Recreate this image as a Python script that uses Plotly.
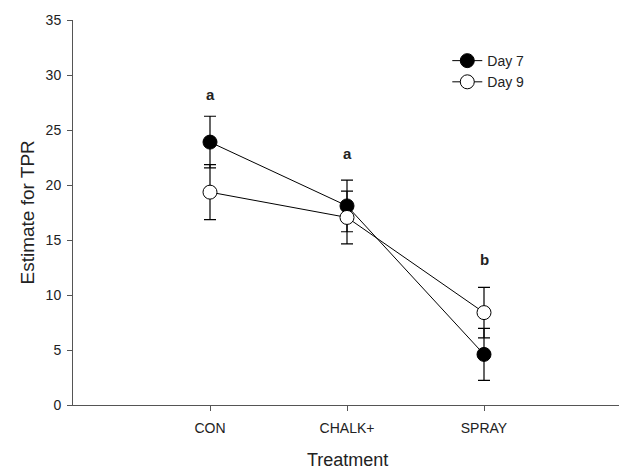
import plotly.graph_objects as go

categories = ["CON", "CHALK+", "SPRAY"]
day7_mean = [23.9, 18.1, 4.6]
day7_err = [2.35, 2.35, 2.37]
day9_mean = [19.35, 17.05, 8.4]
day9_err = [2.5, 2.4, 2.3]
letters = ["a", "a", "b"]
letter_y = [28.2, 22.9, 13.2]
xpos = [1, 2, 3]

FONT = "Liberation Sans, Arial, sans-serif"

fig = go.Figure()
fig.add_trace(go.Scatter(
    x=xpos, y=day7_mean, name="Day 7", mode="lines+markers", showlegend=False,
    line=dict(color="black", width=1),
    marker=dict(size=14, color="black", line=dict(color="black", width=1)),
    error_y=dict(type="data", array=day7_err, color="black", thickness=1.2, width=6),
))
fig.add_trace(go.Scatter(
    x=xpos, y=day9_mean, name="Day 9", mode="lines+markers", showlegend=False,
    line=dict(color="black", width=1),
    marker=dict(size=14, color="white", line=dict(color="black", width=1)),
    error_y=dict(type="data", array=day9_err, color="black", thickness=1.2, width=6),
))
# legend-only entries (without error bars)
fig.add_trace(go.Scatter(
    x=[None], y=[None], name="Day 7", mode="lines+markers",
    line=dict(color="black", width=1),
    marker=dict(size=14, color="black", line=dict(color="black", width=1)),
))
fig.add_trace(go.Scatter(
    x=[None], y=[None], name="Day 9", mode="lines+markers",
    line=dict(color="black", width=1),
    marker=dict(size=14, color="white", line=dict(color="black", width=1)),
))
for xv, yv, t in zip(xpos, letter_y, letters):
    fig.add_annotation(x=xv, y=yv, text="<b>%s</b>" % t, showarrow=False,
                       font=dict(size=15, color="#222", family=FONT))

# axis titles
fig.add_annotation(x=0.5, y=0, xref="paper", yref="paper", yshift=-55,
                   text="Treatment", showarrow=False, yanchor="middle",
                   font=dict(size=18, color="#222", family=FONT))
fig.add_annotation(x=0, y=0.5, xref="paper", yref="paper", xshift=-46,
                   text="Estimate for TPR", showarrow=False, textangle=-90,
                   xanchor="center", font=dict(size=19, color="#222", family=FONT))

fig.update_layout(
    width=619, height=462,
    margin=dict(l=65, r=6, t=12, b=65, autoexpand=False),
    paper_bgcolor="white", plot_bgcolor="white",
    font=dict(family=FONT, color="#333", size=14),
    showlegend=True,
    legend=dict(x=0.683, y=0.935, xanchor="left", yanchor="top",
                bgcolor="rgba(0,0,0,0)", font=dict(size=14, color="#222", family=FONT),
                tracegroupgap=0),
    xaxis=dict(range=[0, 4], tickvals=xpos, ticktext=categories,
               showgrid=False, zeroline=False, showline=True, automargin=False,
               linecolor="#555", linewidth=1, ticks="outside", ticklen=5,
               ticklabelstandoff=5,
               tickcolor="#555", tickfont=dict(size=14, color="#222")),
    yaxis=dict(range=[0, 35], tickvals=[0, 5, 10, 15, 20, 25, 30, 35],
               showgrid=False, zeroline=False, showline=True, automargin=False,
               linecolor="#555", linewidth=1, ticks="outside", ticklen=5,
               ticklabelstandoff=3,
               tickcolor="#555", tickfont=dict(size=14, color="#222")),
)

fig.write_html("out.html")
